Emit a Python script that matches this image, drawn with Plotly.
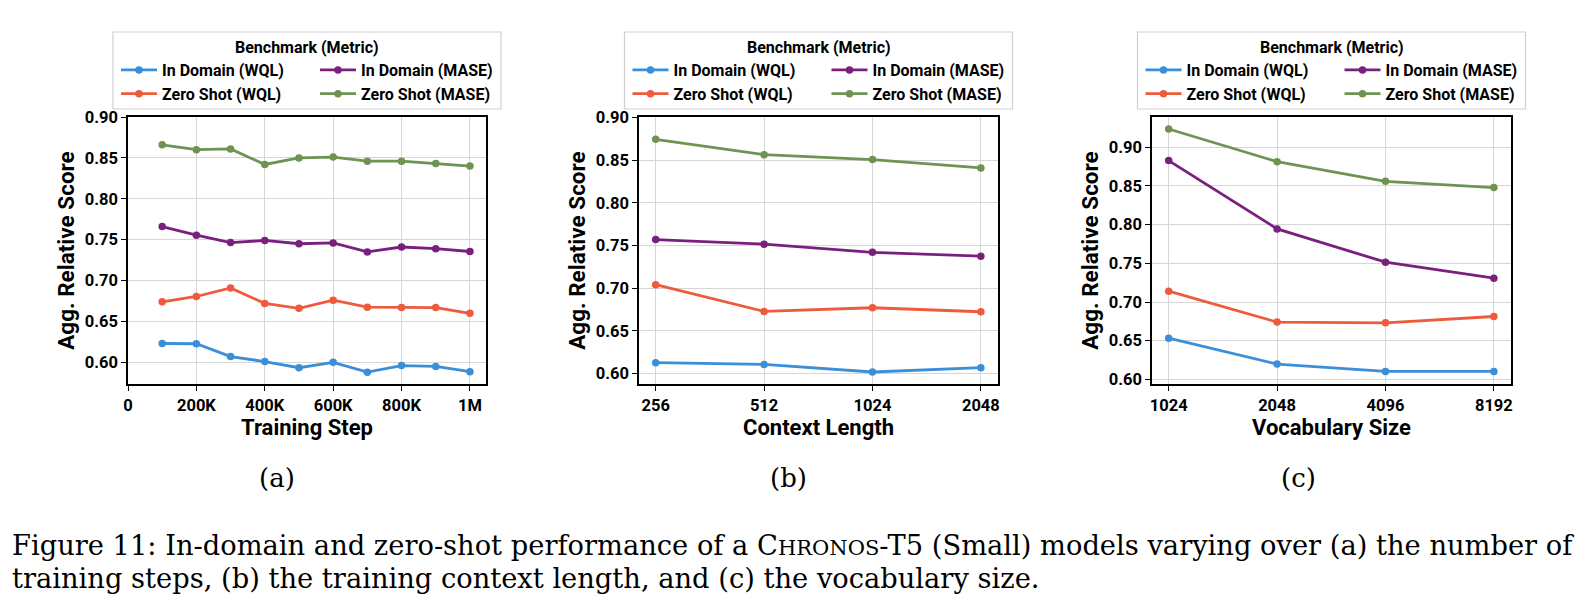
import numpy as np
import plotly.graph_objects as go

W, H = 1584, 610

# ---------------- data ----------------
series_names = ["In Domain (WQL)", "Zero Shot (WQL)", "In Domain (MASE)", "Zero Shot (MASE)"]
series_colors = ["#3b8fd8", "#ee5a3c", "#79207f", "#6f9353"]

steps = [100000, 200000, 300000, 400000, 500000, 600000, 700000, 800000, 900000, 1000000]
step_tickvals = [0, 200000, 400000, 600000, 800000, 1000000]
step_ticktext = ["0", "200K", "400K", "600K", "800K", "1M"]
a_in_wql = [0.623, 0.6227, 0.607, 0.601, 0.5934, 0.600, 0.588, 0.596, 0.595, 0.5885]
a_zs_wql = [0.674, 0.6805, 0.691, 0.672, 0.666, 0.676, 0.6675, 0.667, 0.667, 0.660]
a_in_mase = [0.766, 0.7555, 0.7465, 0.749, 0.745, 0.746, 0.735, 0.741, 0.739, 0.7355]
a_zs_mase = [0.866, 0.860, 0.861, 0.842, 0.850, 0.851, 0.846, 0.846, 0.843, 0.840]

context = [256, 512, 1024, 2048]
b_in_wql = [0.6125, 0.6105, 0.6016, 0.6066]
b_zs_wql = [0.704, 0.6727, 0.677, 0.6723]
b_in_mase = [0.757, 0.7516, 0.742, 0.7375]
b_zs_mase = [0.8746, 0.8566, 0.8508, 0.841]

vocab = [1024, 2048, 4096, 8192]
c_in_wql = [0.6533, 0.6198, 0.6103, 0.6103]
c_zs_wql = [0.714, 0.674, 0.6731, 0.6813]
c_in_mase = [0.8828, 0.7945, 0.7515, 0.7308]
c_zs_mase = [0.9237, 0.8815, 0.856, 0.848]

y_ticks = [0.60, 0.65, 0.70, 0.75, 0.80, 0.85, 0.90]

panels = [
    dict(x=steps, ys=[a_in_wql, a_zs_wql, a_in_mase, a_zs_mase], xtitle="Training Step",
         px=(128, 486), yr=[0.5735, 0.90], sub="(a)", subx=277),
    dict(x=context, ys=[b_in_wql, b_zs_wql, b_in_mase, b_zs_mase], xtitle="Context Length",
         px=(639, 998), yr=[0.5875, 0.9008], sub="(b)", subx=788),
    dict(x=vocab, ys=[c_in_wql, c_zs_wql, c_in_mase, c_zs_mase], xtitle="Vocabulary Size",
         px=(1152, 1511), yr=[0.594, 0.9392], sub="(c)", subx=1298),
]

caption1 = ("Figure 11: In-domain and zero-shot performance of a "
            "C<span style='font-size:21px'>HRONOS</span>-T5 (Small) models varying over (a) the number of")
caption2 = "training steps, (b) the training context length, and (c) the vocabulary size."

# ---------------- figure ----------------
PY0, PY1 = 117, 384  # plot area top/bottom in px
FONT = "Roboto"
SERIF = "DejaVu Serif"
fx = lambda p: p / W
fy = lambda p: 1 - p / H

fig = go.Figure()
shapes, annotations = [], []
layout = dict(
    width=W, height=H, margin=dict(l=0, r=0, t=0, b=0, autoexpand=False),
    paper_bgcolor="white", plot_bgcolor="white",
    font=dict(family=FONT, color="black", size=16, weight="bold"),
    showlegend=True,
)

for i, p in enumerate(panels):
    k = "" if i == 0 else str(i + 1)
    xa, ya = "x" + k, "y" + k
    leg1 = "legend" if i == 0 else "legend%d" % (2 * i + 1)
    leg2 = "legend%d" % (2 * i + 2)
    for j, (nm, col, yv) in enumerate(zip(series_names, series_colors, p["ys"])):
        fig.add_trace(go.Scatter(
            x=p["x"], y=yv, name=nm, mode="lines+markers",
            line=dict(color=col, width=2.8), marker=dict(color=col, size=7.5),
            xaxis=xa, yaxis=ya, legend=leg1 if j < 2 else leg2,
        ))
    x0, x1 = p["px"]
    common = dict(showline=True, mirror=True, linecolor="black", linewidth=1.6,
                  ticks="outside", ticklen=5, tickwidth=1.2, tickcolor="black",
                  showgrid=True, gridcolor="#d6d6d6", gridwidth=1, zeroline=False,
                  automargin=False,
                  tickfont=dict(family=FONT, size=16.5, color="black", weight="bold"))
    if i == 0:
        xr = [0, 1.047e6]
        xaxis = dict(range=xr, tickvals=step_tickvals, ticktext=step_ticktext, type="linear")
    else:
        lx = np.log10(p["x"])
        d = lx[1] - lx[0]
        xr = [lx[0] - 0.154 * d, lx[-1] + 0.158 * d]
        xaxis = dict(type="log", range=xr, tickvals=p["x"], ticktext=[str(v) for v in p["x"]])
    xaxis.update(common)
    xaxis.update(domain=[fx(x0), fx(x1)], anchor=ya,
                 title=dict(text=p["xtitle"], standoff=4,
                            font=dict(family=FONT, size=22, color="black", weight="bold")))
    yaxis = dict(common)
    yaxis.update(domain=[fy(PY1), fy(PY0)], anchor=xa, range=p["yr"], tickvals=y_ticks,
                 tickformat=".2f",
                 title=dict(text="Agg. Relative Score", standoff=4,
                            font=dict(family=FONT, size=22.5, color="black", weight="bold")))
    layout["xaxis" + k] = xaxis
    layout["yaxis" + k] = yaxis

    # legend box (two columns)
    cx = (x0 + x1) / 2
    L, R = cx - 194, cx + 194
    shapes.append(dict(type="rect", xref="paper", yref="paper",
                       x0=fx(L), x1=fx(R), y0=fy(109), y1=fy(32),
                       line=dict(color="#d0d0d0", width=1.2), fillcolor="white", layer="below"))
    annotations.append(dict(text="Benchmark (Metric)", xref="paper", yref="paper",
                            x=fx(cx), y=fy(47), xanchor="center", yanchor="middle",
                            showarrow=False,
                            font=dict(family=FONT, size=16, color="black", weight="bold")))
    for lg, lx0 in ((leg1, L + 3), (leg2, L + 202)):
        layout[lg] = dict(x=fx(lx0), y=fy(53), xanchor="left", yanchor="top",
                          orientation="v", bgcolor="rgba(0,0,0,0)", borderwidth=0,
                          itemwidth=36,
                          font=dict(family=FONT, size=16, color="black", weight="bold"),
                          traceorder="normal", itemclick=False, itemdoubleclick=False)
    # sub-caption
    annotations.append(dict(text=p["sub"], xref="paper", yref="paper", x=fx(p["subx"]),
                            y=fy(478), xanchor="center", yanchor="middle", showarrow=False,
                            font=dict(family=SERIF, size=26, color="black", weight="normal")))

annotations.append(dict(text=caption1, xref="paper", yref="paper", x=fx(10), y=fy(545),
                        xanchor="left", yanchor="middle", showarrow=False,
                        font=dict(family=SERIF, size=27.3, color="black", weight="normal")))
annotations.append(dict(text=caption2, xref="paper", yref="paper", x=fx(10), y=fy(578),
                        xanchor="left", yanchor="middle", showarrow=False,
                        font=dict(family=SERIF, size=27.3, color="black", weight="normal")))

layout["shapes"] = shapes
layout["annotations"] = annotations
fig.update_layout(**layout)
fig.write_html("out.html")
